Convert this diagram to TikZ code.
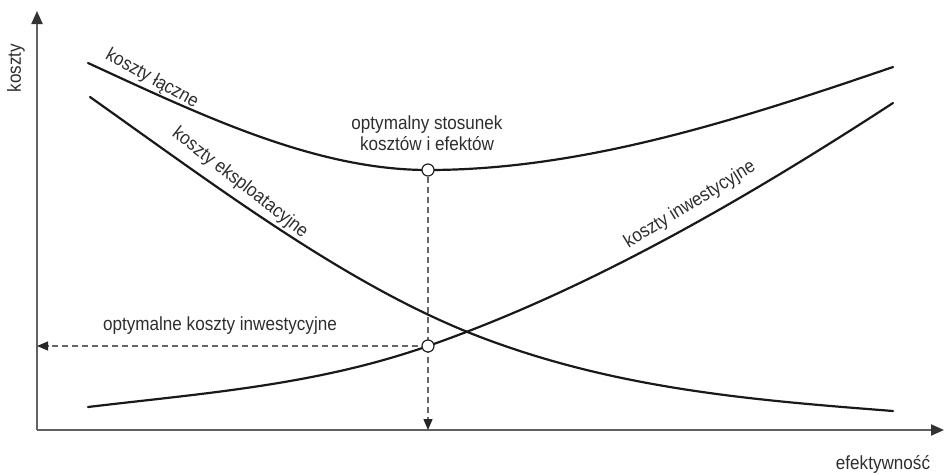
\documentclass[tikz,border=0pt]{standalone}
\usepackage{fontspec}
\setmainfont{Liberation Sans}[FakeStretch=0.9]
\usetikzlibrary{arrows.meta}
\begin{document}
\begin{tikzpicture}[x=1pt,y=-1pt,
  axis/.style={draw=black!62,line width=2pt,-{Triangle[length=13pt,width=11pt,color=black!80]}},
  curve/.style={draw=black!90,line width=2.2pt,line cap=round},
  guide/.style={draw=black!60,line width=1.3pt,dash pattern=on 6pt off 4pt,
    -{Triangle[length=11pt,width=9pt,color=black!85]}},
  point/.style={circle,draw=black!85,line width=1.2pt,fill=white,minimum size=12pt,inner sep=0pt},
  lbl/.style={text=black!82,font=\fontsize{19}{21}\selectfont,inner sep=0pt,align=center}]
\useasboundingbox (0,0) rectangle (944,474);

% axes
\coordinate (O) at (37,430);
\coordinate (ytop) at (37,11);
\coordinate (xend) at (944,430);
\draw[axis] (O) -- (ytop);
\draw[axis] (O) -- (xend);
\node[lbl,rotate=90] (ylab) at (16,68) {koszty};
\node[lbl] (xlab) at (883,464) {efektywność};

% total costs
\draw[curve] (88,63) .. controls (201,115) and (315,170) .. (428,170)
                     .. controls (583,170) and (738,120) .. (893,67);
% operating costs
\draw[curve] (90,97) .. controls (217,187) and (343,282) .. (470,333)
                     .. controls (611,389) and (752,400) .. (893,411);
% investment costs
\draw[curve] (88,407) .. controls (201,393.4) and (315,385.6) .. (428,346)
                      .. controls (583,292) and (738,204) .. (893,103);

% curve labels
\node[lbl,rotate=-29] (lacz) at (152,79) {koszty łączne};
\node[lbl,rotate=-38] (eksp) at (240,183) {koszty eksploatacyjne};
\node[lbl,rotate=31.5] (inw) at (690,205) {koszty inwestycyjne};
\node[lbl] (optlab) at (427,133) {optymalny stosunek\\kosztów i efektów};
\node[lbl] (invlab) at (220,326) {optymalne koszty inwestycyjne};

% optimum points and guides
\node[point] (opt1) at (428,170) {};
\coordinate (opt2c) at (428,346);
\coordinate (xhit) at (opt1 |- O);
\coordinate (yhit) at (O |- opt2c);
\draw[guide] (opt1) -- (xhit);
\draw[guide] (opt2c) -- (yhit);
\node[point] (opt2) at (opt2c) {};
\end{tikzpicture}
\end{document}
